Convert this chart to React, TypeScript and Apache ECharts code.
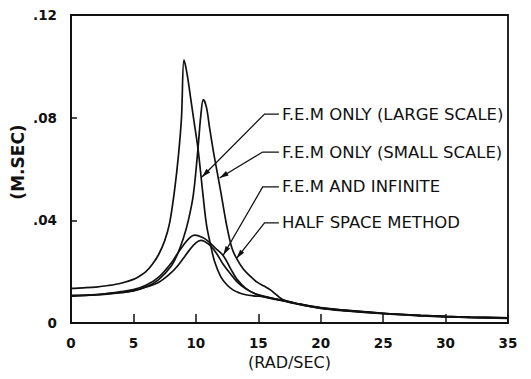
import React, { useEffect, useRef } from "react";
import * as echarts from "echarts";

// ---- data ----
const largeX = [0, 1, 2, 3, 4, 5, 5.5, 6, 6.5, 7, 7.5, 7.9, 8.3, 8.6, 8.85, 9.05, 9.3, 9.6, 9.9, 10.17, 10.57, 10.86, 11.2, 11.5, 12, 12.5, 13, 13.5, 14, 14.6, 15.5, 16, 17, 18, 19, 20, 22, 25, 28, 30, 32, 35];
const largeY = [0.0135, 0.0137, 0.014, 0.0146, 0.0155, 0.017, 0.0183, 0.02, 0.0228, 0.0265, 0.032, 0.039, 0.052, 0.065, 0.08, 0.1025, 0.097, 0.087, 0.077, 0.068, 0.05, 0.038, 0.03, 0.024, 0.018, 0.0148, 0.0128, 0.0117, 0.011, 0.0106, 0.0102, 0.0097, 0.0087, 0.0076, 0.0066, 0.0058, 0.0048, 0.0037, 0.0029, 0.0025, 0.0022, 0.0019];

const smallX = [0, 2, 4, 5, 6, 7, 8, 8.5, 9, 9.4, 9.8, 10.17, 10.4, 10.6, 10.85, 11.1, 11.4, 11.7, 12.0, 12.47, 12.9, 13.26, 13.8, 14.3, 14.87, 15.5, 16, 16.5, 17, 18, 20, 22, 25, 28, 30, 32, 35];
const smallY = [0.0105, 0.0109, 0.0118, 0.0125, 0.014, 0.0168, 0.022, 0.0265, 0.033, 0.04, 0.05, 0.068, 0.081, 0.087, 0.084, 0.076, 0.067, 0.059, 0.051, 0.038, 0.029, 0.0252, 0.021, 0.0185, 0.016, 0.0143, 0.0128, 0.0108, 0.009, 0.0077, 0.006, 0.005, 0.0038, 0.003, 0.0026, 0.0023, 0.002];

const infiniteX = [0, 2, 4, 5, 6, 7, 8, 8.5, 9, 9.5, 9.9, 10.5, 11, 11.6, 12.2, 12.8, 13.3, 14, 14.9, 16, 17, 18, 20, 22, 25, 28, 30, 32, 35];
const infiniteY = [0.0105, 0.011, 0.0122, 0.013, 0.0147, 0.0178, 0.0232, 0.0268, 0.0303, 0.0332, 0.0342, 0.0334, 0.0318, 0.029, 0.0262, 0.021, 0.017, 0.0135, 0.011, 0.0096, 0.0086, 0.0075, 0.0057, 0.0047, 0.0036, 0.0028, 0.0024, 0.0021, 0.0018];

const halfSpaceX = [0, 2, 4, 5, 6, 7, 8, 8.5, 9, 9.5, 10, 10.4, 11, 11.6, 12.2, 12.8, 13.3, 14, 14.9, 16, 17, 18, 20, 22, 25, 28, 30, 32, 35];
const halfSpaceY = [0.0108, 0.0111, 0.0119, 0.0126, 0.014, 0.0158, 0.0195, 0.022, 0.0252, 0.0285, 0.0312, 0.0322, 0.0308, 0.0275, 0.0228, 0.019, 0.016, 0.0133, 0.0112, 0.0098, 0.0088, 0.0077, 0.0059, 0.0049, 0.0038, 0.003, 0.0026, 0.0023, 0.002];

const xTicks = { min: 0, max: 35, interval: 5 };
const yTicks = { min: 0, max: 0.12, interval: 0.04 };

const annotationLabels = [
  "F.E.M ONLY (LARGE SCALE)",
  "F.E.M ONLY (SMALL SCALE)",
  "F.E.M AND INFINITE",
  "HALF SPACE METHOD",
];
const annotationTips = [
  [10.49, 0.0569],
  [11.9, 0.0565],
  [12.2, 0.0265],
  [13.26, 0.0252],
];
const annotationElbows = [
  [15.5, 0.0814],
  [15.35, 0.0666],
  [15.35, 0.053],
  [15.5, 0.039],
];
const annotationLineEndX = 16.65;
const annotationTextX = 16.9;

const xName = "(RAD/SEC)";
const yName = "(M.SEC)";

const pair = (xs: number[], ys: number[]) => xs.map((x, i) => [x, ys[i]]);

export default function App() {
  const ref = useRef<HTMLDivElement>(null);

  useEffect(() => {
    if (!ref.current) return;
    const chart = echarts.init(ref.current, null, { renderer: "svg" });
    const lineStyle = { color: "#111", width: 1.7 };
    const mkSeries = (name: string, xs: number[], ys: number[]) => ({
      name,
      type: "line",
      data: pair(xs, ys),
      smooth: 0.35,
      showSymbol: false,
      symbol: "none",
      lineStyle,
      itemStyle: { color: "#111" },
      z: 3,
    });
    chart.setOption({
      animation: false,
      backgroundColor: "#fff",
      grid: {
        left: 71,
        right: 23,
        top: 15,
        bottom: 56,
        show: true,
        borderColor: "#111",
        borderWidth: 1.8,
        backgroundColor: "transparent",
      },
      xAxis: {
        type: "value",
        min: xTicks.min,
        max: xTicks.max,
        interval: xTicks.interval,
        name: xName,
        nameLocation: "middle",
        nameGap: 31,
        nameTextStyle: { fontFamily: "DejaVu Sans", fontSize: 16, color: "#111" },
        axisLine: { show: true, lineStyle: { color: "#111", width: 2 } },
        axisTick: { show: true, inside: true, length: 9, lineStyle: { color: "#111", width: 1.5 } },
        splitLine: { show: false },
        axisLabel: {
          margin: 13,
          fontFamily: "DejaVu Sans",
          fontWeight: "bold",
          fontSize: 13.5,
          color: "#111",
        },
      },
      yAxis: {
        type: "value",
        min: yTicks.min,
        max: yTicks.max,
        interval: yTicks.interval,
        axisLine: { show: true, lineStyle: { color: "#111", width: 2 } },
        axisTick: { show: true, inside: true, length: 6, lineStyle: { color: "#111", width: 1.5 } },
        splitLine: { show: false },
        axisLabel: {
          margin: 14,
          fontFamily: "DejaVu Sans",
          fontWeight: "bold",
          fontSize: 13.5,
          color: "#111",
          formatter: (v: number) => (v === 0 ? "0" : v.toFixed(2).replace(/^0/, "")),
        },
      },
      series: [
        mkSeries("F.E.M ONLY (LARGE SCALE)", largeX, largeY),
        mkSeries("F.E.M ONLY (SMALL SCALE)", smallX, smallY),
        mkSeries("F.E.M AND INFINITE", infiniteX, infiniteY),
        mkSeries("HALF SPACE METHOD", halfSpaceX, halfSpaceY),
      ],
    });

    const graphics: any[] = [];
    annotationLabels.forEach((label, i) => {
      const tip = chart.convertToPixel({ gridIndex: 0 }, annotationTips[i]) as number[];
      const elbow = chart.convertToPixel({ gridIndex: 0 }, annotationElbows[i]) as number[];
      const end = chart.convertToPixel({ gridIndex: 0 }, [annotationLineEndX, annotationElbows[i][1]]) as number[];
      const txt = chart.convertToPixel({ gridIndex: 0 }, [annotationTextX, annotationElbows[i][1]]) as number[];
      graphics.push({
        type: "polyline",
        shape: { points: [end, elbow, tip] },
        style: { stroke: "#111", lineWidth: 1.3, fill: null },
        z: 10,
      });
      const dx = elbow[0] - tip[0];
      const dy = elbow[1] - tip[1];
      const len = Math.sqrt(dx * dx + dy * dy);
      const ux = dx / len;
      const uy = dy / len;
      const L = 9;
      const W = 2.6;
      const bx = tip[0] + ux * L;
      const by = tip[1] + uy * L;
      graphics.push({
        type: "polygon",
        shape: {
          points: [
            tip,
            [bx - uy * W, by + ux * W],
            [bx + uy * W, by - ux * W],
          ],
        },
        style: { fill: "#111" },
        z: 10,
      });
      graphics.push({
        type: "text",
        x: txt[0],
        y: txt[1],
        style: {
          text: label,
          font: "16.5px 'DejaVu Sans'",
          fill: "#111",
          align: "left",
          verticalAlign: "middle",
        },
        z: 10,
      });
    });
    graphics.push({
      type: "text",
      x: 18,
      y: 162,
      rotation: Math.PI / 2,
      style: {
        text: yName,
        font: "bold 17px 'DejaVu Sans'",
        fill: "#111",
        align: "center",
        verticalAlign: "middle",
      },
    });
    chart.setOption({ graphic: graphics });

    return () => chart.dispose();
  }, []);

  return (
    <div
      ref={ref}
      style={{ position: "absolute", left: 0, top: 0, width: 531, height: 379, background: "#fff" }}
    />
  );
}
